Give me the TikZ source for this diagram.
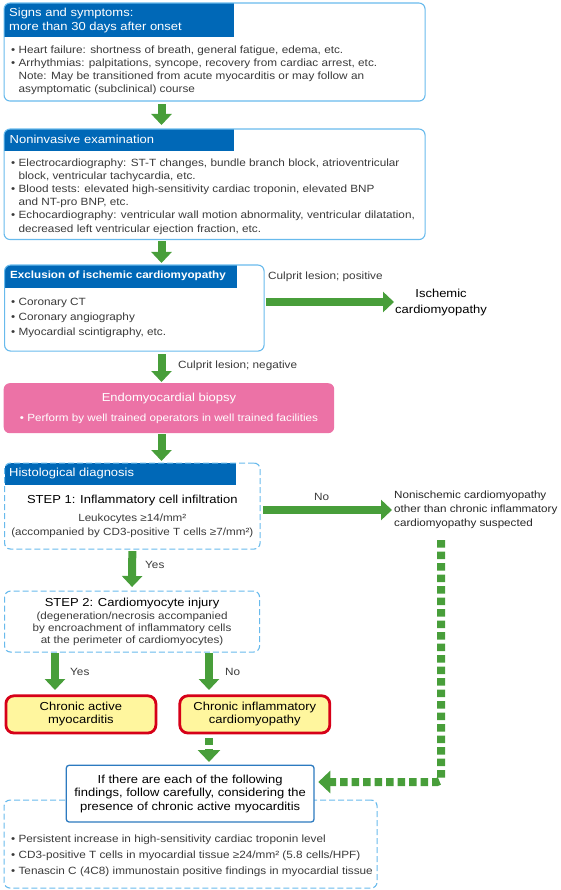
\documentclass[tikz,border=0pt]{standalone}
\usepackage{fontspec}
\setmainfont{Liberation Sans}[FakeStretch=1.12]
\usetikzlibrary{arrows.meta}

\definecolor{frameblue}{RGB}{104,186,236}
\definecolor{hdrblue}{RGB}{0,104,183}
\definecolor{arrowgreen}{RGB}{72,158,58}
\definecolor{biopsypink}{RGB}{236,114,166}
\definecolor{dxred}{RGB}{214,0,24}
\definecolor{dxyellow}{RGB}{255,246,158}
\definecolor{findblue}{RGB}{44,122,192}
\definecolor{textgray}{RGB}{58,58,58}

\begin{document}
\begin{tikzpicture}[x=1pt, y=-1pt, every node/.style={inner sep=0pt, text=textgray},
    frame/.style 2 args={draw=frameblue, line width=1.1pt, rounded corners=6pt, anchor=north west,
      path picture={\fill[hdrblue, sharp corners] (path picture bounding box.north west) rectangle ++(#1,#2);}},
    dashframe/.style={draw=frameblue, line width=1.1pt, rounded corners=6pt, anchor=north west, dash pattern=on 6pt off 3pt},
    hdr/.style={anchor=west, align=left, text=white, font=\fontsize{11.6}{13.5}\selectfont},
    body/.style={anchor=north west, align=left, font=\fontsize{10.5}{13}\selectfont},
    lbl/.style={anchor=west, font=\fontsize{10.5}{12}\selectfont},
    dxbox/.style={draw=dxred, line width=2.8pt, fill=dxyellow, rounded corners=8pt, anchor=north west,
      minimum width=150pt, minimum height=37.2pt, align=center, text=black, font=\fontsize{11.6}{13}\selectfont},
    bigarrow/.style={draw=arrowgreen, line width=8pt, -{Triangle[width=20pt,length=11pt]}},
    dotarrow/.style={draw=arrowgreen, line width=8pt, dash pattern=on 7.5pt off 4pt, -{Triangle[width=22pt,length=12pt]}}]
\useasboundingbox (0,0) rectangle (560,890);

% Nodes
\node (signs) [frame={230}{33.5}, minimum width=421pt, minimum height=98pt] at (3.5,2.5) {};
\node (signshdr) [hdr] at ([xshift=5.5pt,yshift=-18.2pt]signs.north west) {Signs and symptoms:\\more than 30 days after onset};
\node (signstext) [body] at ([xshift=7.5pt,yshift=-42.8pt]signs.north west) {\textbullet\ Heart failure: shortness of breath, general fatigue, edema, etc.\\
  \textbullet\ Arrhythmias: palpitations, syncope, recovery from cardiac arrest, etc.\\
  \hphantom{\textbullet\ }Note: May be transitioned from acute myocarditis or may follow an\\
  \hphantom{\textbullet\ }asymptomatic (subclinical) course};

\node (exam) [frame={230}{21.5}, minimum width=421pt, minimum height=110.5pt] at (3.5,128.5) {};
\node (examhdr) [hdr] at ([xshift=6pt,yshift=-10.5pt]exam.north west) {Noninvasive examination};
\node (examtext) [body, font=\fontsize{10.5}{13.2}\selectfont] at ([xshift=7.5pt,yshift=-29.8pt]exam.north west) {\textbullet\ Electrocardiography: ST-T changes, bundle branch block, atrioventricular\\
  \hphantom{\textbullet\ }block, ventricular tachycardia, etc.\\
  \textbullet\ Blood tests: elevated high-sensitivity cardiac troponin, elevated BNP\\
  \hphantom{\textbullet\ }and NT-pro BNP, etc.\\
  \textbullet\ Echocardiography: ventricular wall motion abnormality, ventricular dilatation,\\
  \hphantom{\textbullet\ }decreased left ventricular ejection fraction, etc.};

\node (excl) [frame={232}{22.5}, minimum width=259.5pt, minimum height=86pt] at (4,264.5) {};
\node (exclhdr) [hdr, font=\bfseries\fontsize{10.4}{12}\selectfont] at ([xshift=6pt,yshift=-11.8pt]excl.north west) {Exclusion of ischemic cardiomyopathy};
\node (excltext) [body, font=\fontsize{10.5}{15}\selectfont] at ([xshift=7pt,yshift=-33.8pt]excl.north west) {\textbullet\ Coronary CT\\\textbullet\ Coronary angiography\\\textbullet\ Myocardial scintigraphy, etc.};
\node (ischemic) [anchor=west, align=center, text=black, font=\fontsize{11.6}{16}\selectfont] at (395,302) {Ischemic\\cardiomyopathy};
\node (poslbl) [lbl] at (268,277) {Culprit lesion; positive};

\node (biopsy) [fill=biopsypink, rounded corners=6pt, anchor=north west, minimum width=330.5pt, minimum height=50pt, align=center, text=white, font=\fontsize{10.4}{20}\selectfont] at (3.5,383) {{\fontsize{11.6}{14}\selectfont Endomyocardial biopsy}\\\textbullet\ Perform by well trained operators in well trained facilities};
\node (neglbl) [lbl] at (178,366) {Culprit lesion; negative};

\node (hist) [frame={231}{21.5}, dash pattern=on 6pt off 3pt, minimum width=255.5pt, minimum height=86pt] at (4,462.5) {};
\node (histhdr) [hdr] at ([xshift=5pt,yshift=-11pt]hist.north west) {Histological diagnosis};
\node (step1) [anchor=north, align=center, font=\fontsize{10.4}{14}\selectfont] at ([yshift=-32.5pt]hist.north) {{\fontsize{11.6}{14}\selectfont\color{black}STEP 1: Inflammatory cell infiltration}\\[4pt]Leukocytes ≥14/mm²\\(accompanied by CD3-positive T cells ≥7/mm²)};
\node (nonisch) [anchor=west, align=left, text=black!85, font=\fontsize{10.4}{14}\selectfont] at (394,510) {Nonischemic cardiomyopathy\\other than chronic inflammatory\\cardiomyopathy suspected};
\node (nolbl) [lbl] at (314,497) {No};

\node (step2) [dashframe, minimum width=255pt, minimum height=61pt, align=center, font=\fontsize{10.4}{12}\selectfont] at (4,590.5) {{\fontsize{11.6}{13}\selectfont\color{black}STEP 2: Cardiomyocyte injury}\\[1pt](degeneration/necrosis accompanied\\by encroachment of inflammatory cells\\at the perimeter of cardiomyocytes)};
\node (yeslbl) [lbl] at (145,565) {Yes};

\node (cam) [dxbox] at (4.5,694.4) {Chronic active\\myocarditis};
\node (cic) [dxbox] at (178.4,694.4) {Chronic inflammatory\\cardiomyopathy};
\node (camlbl) [lbl] at (70,672) {Yes};
\node (ciclbl) [lbl] at (225,672) {No};

\node (extra) [dashframe, minimum width=373pt, minimum height=88pt] at (3.5,799.5) {};
\node (extratext) [body, font=\fontsize{10.5}{16}\selectfont] at ([xshift=7.5pt,yshift=-34.8pt]extra.north west) {\textbullet\ Persistent increase in high-sensitivity cardiac troponin level\\
  \textbullet\ CD3-positive T cells in myocardial tissue ≥24/mm² (5.8 cells/HPF)\\
  \textbullet\ Tenascin C (4C8) immunostain positive findings in myocardial tissue};
\node (finding) [draw=findblue, line width=1.3pt, fill=white, rounded corners=3pt, anchor=north west, minimum width=247.8pt, minimum height=56.8pt, align=center, text=black, font=\fontsize{11.6}{13.5}\selectfont] at (65.6,764.6) {If there are each of the following\\findings, follow carefully, considering the\\presence of chronic active myocarditis};
\coordinate (turn) at (441,782);

% Arrows
\draw[bigarrow, shorten <=2.5pt, shorten >=3.5pt] ([xshift=158pt]signs.south west) -- ([xshift=158pt]exam.north west);
\draw[bigarrow, shorten <=1pt, shorten >=1.5pt] ([xshift=158pt]exam.south west) -- ([xshift=157.5pt]excl.north west);
\draw[bigarrow, shorten <=1.5pt, shorten >=1pt] (excl.east |- ischemic.west) -- (ischemic.west);
\draw[bigarrow, shorten <=2.5pt, shorten >=1pt] ([xshift=157.5pt]excl.south west) -- ([xshift=158pt]biopsy.north west);
\draw[bigarrow, shorten <=1pt, shorten >=1.5pt] ([xshift=158pt]biopsy.south west) -- ([xshift=157.5pt]hist.north west);
\draw[bigarrow, shorten <=2.5pt, shorten >=2pt] (hist.east |- nonisch.west) -- (nonisch.west);
\draw[bigarrow, shorten <=1.5pt, shorten >=3.5pt] (hist.south) -- (step2.north);
\draw[bigarrow, shorten <=0.5pt, shorten >=4.4pt] ([xshift=51pt]step2.south west) -- ([xshift=50.5pt]cam.north west);
\draw[bigarrow, shorten <=0.5pt, shorten >=4.4pt] ([xshift=205pt]step2.south west) -- ([xshift=30.6pt]cic.north west);
\draw[dotarrow, dash pattern=on 7pt off 4pt, shorten <=3.4pt, shorten >=2.6pt] ([xshift=30.6pt]cic.south west) -- ([xshift=143.4pt]finding.north west);
\draw[dotarrow, rounded corners=4pt, shorten <=11pt, shorten >=3.6pt] (nonisch.south -| turn) -- (turn) -- (finding.east |- turn);
\end{tikzpicture}
\end{document}
